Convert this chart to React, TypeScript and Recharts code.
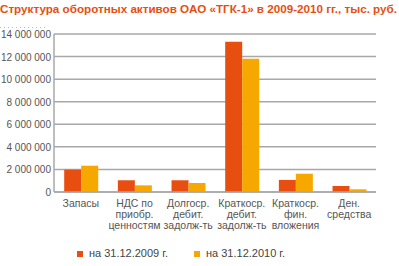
import React from "react"
import { BarChart, Bar, XAxis, YAxis, CartesianGrid, Legend } from "recharts"

const TITLE = "Структура оборотных активов ОАО «ТГК-1» в 2009-2010 гг., тыс. руб."

const categories = [
  "Запасы",
  "НДС по\nприобр.\nценностям",
  "Долгоср.\nдебит.\nзадолж-ть",
  "Краткоср.\nдебит.\nзадолж-ть",
  "Краткоср.\nфин.\nвложения",
  "Ден.\nсредства",
]
const values2009 = [1980000, 1040000, 1040000, 13320000, 1070000, 530000]
const values2010 = [2330000, 590000, 800000, 11800000, 1620000, 240000]
const yTicks = [0, 2000000, 4000000, 6000000, 8000000, 10000000, 12000000, 14000000]

const data = categories.map((name, i) => ({
  name,
  y2009: values2009[i],
  y2010: values2010[i],
}))

const FONT = "'Liberation Sans', Arial, sans-serif"
const RED = "#e84e0f"
const YELLOW = "#f6a800"

const fmt = (v: number) => String(v).replace(/\B(?=(\d{3})+(?!\d))/g, " ")

const CategoryTick = (props: any) => {
  const { x, y, payload } = props
  const lines = String(payload.value).split("\n")
  return (
    <text x={x} y={y} textAnchor="middle" fill="#555" fontSize={10.5} fontFamily={FONT}>
      {lines.map((l, i) => (
        <tspan key={i} x={x} dy={i === 0 ? 7 : 11}>
          {l}
        </tspan>
      ))}
    </text>
  )
}

const ValueTick = (props: any) => {
  const { y, payload } = props
  return (
    <text x={51} y={y + 4} textAnchor="end" fill="#555" fontSize={10} fontFamily={FONT}>
      {fmt(payload.value)}
    </text>
  )
}

export default function App() {
  return (
    <div style={{ width: 399, height: 266, position: "relative", background: "#fff" }}>
      <style>{`body{margin:0}`}</style>
      <svg width={399} height={29} style={{ display: "block" }}>
        <text
          x={0}
          y={13}
          fill={RED}
          fontSize={11.5}
          fontWeight="bold"
          fontFamily={FONT}
          textLength={397}
          lengthAdjust="spacingAndGlyphs"
        >
          {TITLE}
        </text>
        <line x1={0} y1={27.5} x2={48} y2={27.5} stroke="#bbb" strokeDasharray="1 3" />
      </svg>
      <BarChart
        width={399}
        height={237}
        data={data}
        margin={{ top: 5, right: 23, left: 0, bottom: 5 }}
        barCategoryGap="19%"
        barGap={0}
      >
        <CartesianGrid vertical={false} stroke="#a8a8a8" strokeWidth={1.5} />
        <XAxis
          dataKey="name"
          interval={0}
          tick={<CategoryTick />}
          tickLine={false}
          axisLine={{ stroke: "#a8a8a8", strokeWidth: 1.5 }}
          height={55}
        />
        <YAxis
          width={54}
          domain={[0, 14000000]}
          ticks={yTicks}
          interval={0}
          tick={<ValueTick />}
          tickLine={false}
          axisLine={{ stroke: "#a8a8a8", strokeWidth: 1.5 }}
        />
        <Legend
          verticalAlign="bottom"
          iconType="square"
          iconSize={6}
          height={14}
          wrapperStyle={{ fontSize: 11, fontFamily: FONT, color: "#444", paddingLeft: 6 }}
          formatter={(v: string) => <span style={{ color: "#444", marginLeft: 2, marginRight: 16 }}>{v}</span>}
        />
        <Bar dataKey="y2009" name="на 31.12.2009 г." fill={RED} isAnimationActive={false} />
        <Bar dataKey="y2010" name="на 31.12.2010 г." fill={YELLOW} isAnimationActive={false} />
      </BarChart>
    </div>
  )
}
